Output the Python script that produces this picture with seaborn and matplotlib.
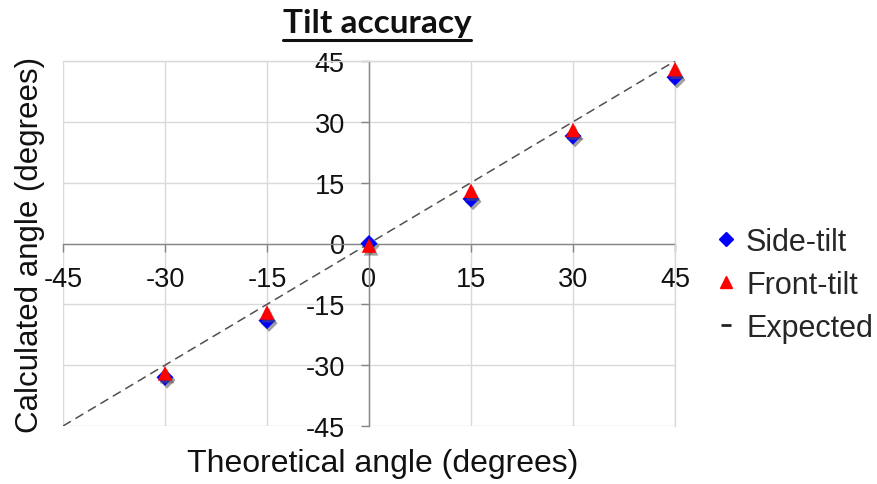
import matplotlib
matplotlib.use('Agg')
import matplotlib.pyplot as plt
import matplotlib.patheffects as pe
from matplotlib.lines import Line2D
import seaborn as sns
import pandas as pd

# ---- data ----
theoretical = [-30, -15, 0, 15, 30, 45]
side_tilt = [-33, -19, 0, 11, 26.5, 41]
front_tilt = [-32, -17, -0.5, 13, 28, 43]
expected_x = [-45, 45]
expected_y = [-45, 45]
ticks = [-45, -30, -15, 0, 15, 30, 45]
series_names = ['Side-tilt', 'Front-tilt', 'Expected']

sns.set_theme(style='white')
plt.rcParams['font.family'] = ['Liberation Sans', 'DejaVu Sans']

W, H = 877, 485
fig = plt.figure(figsize=(W / 100, H / 100), dpi=100)
ax = fig.add_axes([63 / W, 1 - 427 / H, 612 / W, 365 / H])

side_df = pd.DataFrame({'x': theoretical, 'y': side_tilt})
front_df = pd.DataFrame({'x': theoretical, 'y': front_tilt})
exp_df = pd.DataFrame({'x': expected_x, 'y': expected_y})

sns.lineplot(data=exp_df, x='x', y='y', ax=ax, color='#505050',
             linestyle=(0, (6, 3.5)), linewidth=1.1, zorder=3)

shadow = [pe.SimplePatchShadow(offset=(1.5, -2), shadow_rgbFace='#555555', alpha=0.55),
          pe.Normal()]
sns.scatterplot(data=side_df, x='x', y='y', ax=ax, marker='D', color='#0000ff',
                s=75, edgecolor='none', linewidth=0, zorder=4)
sns.scatterplot(data=front_df, x='x', y='y', ax=ax, marker='^', color='#ff0000',
                s=110, edgecolor='none', linewidth=0, zorder=5)
for coll in ax.collections:
    coll.set_path_effects(shadow)
    coll.set_clip_on(False)

ax.set_xlim(-45, 45)
ax.set_ylim(-45, 45)
ax.set_xticks(ticks)
ax.set_yticks(ticks)
ax.set_xticklabels([str(t) for t in ticks])
ax.set_yticklabels([str(t) for t in ticks])

ax.grid(True, color='#d9d9d9', linewidth=1.0)
for gl in ax.get_xgridlines() + ax.get_ygridlines():
    gl.set_clip_on(False)

for side in ['left', 'bottom']:
    ax.spines[side].set_position(('data', 0))
    ax.spines[side].set_color('#868686')
    ax.spines[side].set_linewidth(1.0)
    ax.spines[side].set_zorder(2)
for side in ['top', 'right']:
    ax.spines[side].set_color('#d9d9d9')
    ax.spines[side].set_linewidth(1.0)

ax.tick_params(axis='x', direction='out', length=5.5, width=1, color='#868686',
               pad=11, labelsize=19.5, labelcolor='#111111', bottom=True)
ax.tick_params(axis='y', direction='out', length=5.5, width=1, color='#868686',
               pad=12, labelsize=19.5, labelcolor='#111111', left=True)

ax.set_xlabel('Theoretical angle (degrees)', fontsize=23, color='#111111')
ax.set_ylabel('Calculated angle (degrees)', fontsize=22.5, color='#111111')
ax.xaxis.set_label_coords((383 - 63) / 612, -0.06)
ax.yaxis.set_label_coords(-0.03, 0.5)

title = fig.text(377 / W, 1 - 24 / H, 'Tilt accuracy', ha='center', va='center',
                 fontsize=24, fontweight='bold', family=['Lato', 'DejaVu Sans'],
                 color='#111111')
fig.canvas.draw()
bb = title.get_window_extent().transformed(fig.transFigure.inverted())
fig.add_artist(Line2D([bb.x0, bb.x1], [1 - 41 / H, 1 - 41 / H], color='#111111',
                      linewidth=2.2, transform=fig.transFigure))

handles = [
    Line2D([], [], marker='D', color='#0000ff', linestyle='none', markersize=7),
    Line2D([], [], marker='^', color='#ff0000', linestyle='none', markersize=9),
    Line2D([], [], marker='_', color='#222222', linestyle='none', markersize=7,
           markeredgewidth=2),
]
fig.legend(handles, series_names, loc='upper left', bbox_to_anchor=(717 / W, 1 - 228 / H),
           frameon=False, fontsize=22, handlelength=0.6, handletextpad=0.35,
           labelspacing=0.42, borderaxespad=0, borderpad=0)

fig.savefig('out.png', dpi=100)
